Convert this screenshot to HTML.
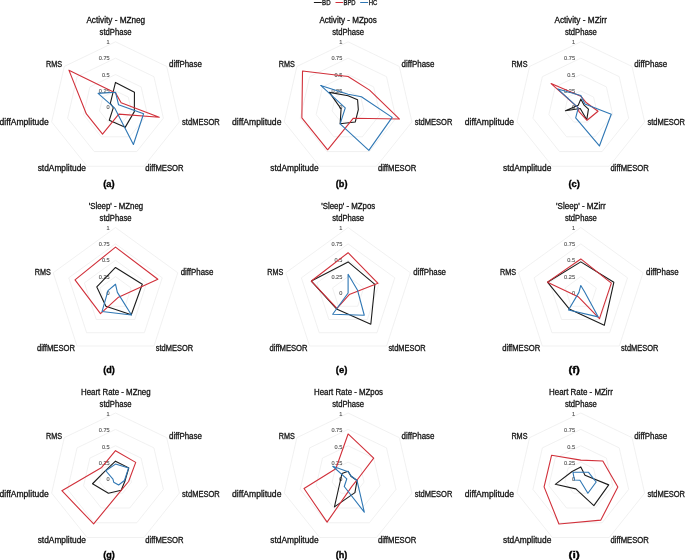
<!DOCTYPE html><html><head><meta charset="utf-8"><style>html,body{margin:0;padding:0;background:#fff;}svg{display:block}text{font-family:"Liberation Sans",sans-serif;} svg{will-change:transform;filter:blur(0.45px)} .t{stroke:#141414;stroke-width:0.3;}</style></head><body>
<svg width="685" height="560" viewBox="0 0 685 560">
<rect width="685" height="560" fill="#fff"/>
<line x1="313.9" y1="2.5" x2="321.8" y2="2.5" stroke="#1a1a1a" stroke-width="1"/>
<text class="t" x="322.1" y="5.1" font-size="7.2" fill="#141414" textLength="8.5" lengthAdjust="spacingAndGlyphs">BD</text>
<line x1="335.5" y1="2.5" x2="343.1" y2="2.5" stroke="#d1303a" stroke-width="1"/>
<text class="t" x="343.5" y="5.1" font-size="7.2" fill="#141414" textLength="12.1" lengthAdjust="spacingAndGlyphs">BPD</text>
<line x1="360.2" y1="2.5" x2="368.1" y2="2.5" stroke="#2f77b4" stroke-width="1"/>
<text class="t" x="368.7" y="5.1" font-size="7.2" fill="#141414" textLength="8.6" lengthAdjust="spacingAndGlyphs">HC</text>
<polygon points="115.50,90.92 128.30,97.09 131.46,110.94 122.60,122.05 108.40,122.05 99.54,110.94 102.70,97.09" fill="none" stroke="#ececec" stroke-width="0.75"/>
<polygon points="115.50,74.55 141.10,86.88 147.43,114.59 129.71,136.81 101.29,136.81 83.57,114.59 89.90,86.88" fill="none" stroke="#ececec" stroke-width="0.75"/>
<polygon points="115.50,58.17 153.91,76.67 163.39,118.23 136.81,151.56 94.19,151.56 67.61,118.23 77.09,76.67" fill="none" stroke="#ececec" stroke-width="0.75"/>
<polygon points="115.50,41.80 166.71,66.46 179.36,121.88 143.92,166.31 87.08,166.31 51.64,121.88 64.29,66.46" fill="none" stroke="#ececec" stroke-width="0.75"/>
<text x="109.70" y="109.30" font-size="5.6" fill="#555" stroke="#555" stroke-width="0.12" text-anchor="end">0</text>
<text x="109.70" y="92.92" font-size="5.6" fill="#555" stroke="#555" stroke-width="0.12" text-anchor="end">0.25</text>
<text x="109.70" y="76.55" font-size="5.6" fill="#555" stroke="#555" stroke-width="0.12" text-anchor="end">0.5</text>
<text x="109.70" y="60.17" font-size="5.6" fill="#555" stroke="#555" stroke-width="0.12" text-anchor="end">0.75</text>
<text x="109.70" y="43.80" font-size="5.6" fill="#555" stroke="#555" stroke-width="0.12" text-anchor="end">1</text>
<polygon points="115.50,82.41 134.45,92.19 134.34,111.60 125.16,127.36 109.25,120.28 113.26,107.81 110.38,103.22" fill="none" stroke="#1c1c1c" stroke-width="1.1" stroke-linejoin="round"/>
<polygon points="115.50,92.89 121.13,102.81 159.24,117.28 118.77,114.09 102.54,134.21 86.38,113.95 68.90,70.14" fill="none" stroke="#d1303a" stroke-width="1.1" stroke-linejoin="round"/>
<polygon points="115.50,92.23 118.57,104.85 143.60,113.71 133.40,144.48 114.93,108.48 114.22,107.59 98.09,93.41" fill="none" stroke="#2f77b4" stroke-width="1.1" stroke-linejoin="round"/>
<text x="99.60" y="35.40" class="t" font-size="8.2" fill="#141414" textLength="31.9" lengthAdjust="spacingAndGlyphs">stdPhase</text>
<text x="169.00" y="67.40" class="t" font-size="8.2" fill="#141414" textLength="32.9" lengthAdjust="spacingAndGlyphs">diffPhase</text>
<text x="182.10" y="124.70" class="t" font-size="8.2" fill="#141414" textLength="37.65" lengthAdjust="spacingAndGlyphs">stdMESOR</text>
<text x="145.30" y="170.70" class="t" font-size="8.2" fill="#141414" textLength="38.3" lengthAdjust="spacingAndGlyphs">diffMESOR</text>
<text x="37.70" y="170.90" class="t" font-size="8.2" fill="#141414" textLength="48.3" lengthAdjust="spacingAndGlyphs">stdAmplitude</text>
<text x="-0.50" y="124.60" class="t" font-size="8.2" fill="#141414" textLength="49.3" lengthAdjust="spacingAndGlyphs">diffAmplitude</text>
<text x="46.10" y="66.80" class="t" font-size="8.2" fill="#141414" textLength="16.1" lengthAdjust="spacingAndGlyphs">RMS</text>
<text x="86.40" y="22.90" class="t" font-size="8.2" fill="#141414" textLength="58.8" lengthAdjust="spacingAndGlyphs">Activity - MZneg</text>
<text x="103.20" y="186.80" font-size="9.7" font-weight="bold" fill="#000" stroke="#000" stroke-width="0.35" textLength="11.4" lengthAdjust="spacingAndGlyphs">(a)</text>
<polygon points="348.10,90.92 360.90,97.09 364.06,110.94 355.20,122.05 341.00,122.05 332.14,110.94 335.30,97.09" fill="none" stroke="#ececec" stroke-width="0.75"/>
<polygon points="348.10,74.55 373.70,86.88 380.03,114.59 362.31,136.81 333.89,136.81 316.17,114.59 322.50,86.88" fill="none" stroke="#ececec" stroke-width="0.75"/>
<polygon points="348.10,58.17 386.51,76.67 395.99,118.23 369.41,151.56 326.79,151.56 300.21,118.23 309.69,76.67" fill="none" stroke="#ececec" stroke-width="0.75"/>
<polygon points="348.10,41.80 399.31,66.46 411.96,121.88 376.52,166.31 319.68,166.31 284.24,121.88 296.89,66.46" fill="none" stroke="#ececec" stroke-width="0.75"/>
<text x="342.30" y="109.30" font-size="5.6" fill="#555" stroke="#555" stroke-width="0.12" text-anchor="end">0</text>
<text x="342.30" y="92.92" font-size="5.6" fill="#555" stroke="#555" stroke-width="0.12" text-anchor="end">0.25</text>
<text x="342.30" y="76.55" font-size="5.6" fill="#555" stroke="#555" stroke-width="0.12" text-anchor="end">0.5</text>
<text x="342.30" y="60.17" font-size="5.6" fill="#555" stroke="#555" stroke-width="0.12" text-anchor="end">0.75</text>
<text x="342.30" y="43.80" font-size="5.6" fill="#555" stroke="#555" stroke-width="0.12" text-anchor="end">1</text>
<polygon points="348.10,95.77 357.57,99.74 358.32,109.63 355.20,122.05 340.14,123.82 341.08,108.90 329.36,92.35" fill="none" stroke="#1c1c1c" stroke-width="1.1" stroke-linejoin="round"/>
<polygon points="348.10,76.52 369.61,90.15 399.51,119.03 353.36,118.22 327.64,149.79 301.87,117.85 302.52,70.95" fill="none" stroke="#d1303a" stroke-width="1.1" stroke-linejoin="round"/>
<polygon points="348.10,94.20 361.41,96.68 392.16,117.36 368.85,150.38 340.14,123.82 345.23,107.96 320.70,85.45" fill="none" stroke="#2f77b4" stroke-width="1.1" stroke-linejoin="round"/>
<text x="332.20" y="35.40" class="t" font-size="8.2" fill="#141414" textLength="31.9" lengthAdjust="spacingAndGlyphs">stdPhase</text>
<text x="401.60" y="67.40" class="t" font-size="8.2" fill="#141414" textLength="32.9" lengthAdjust="spacingAndGlyphs">diffPhase</text>
<text x="414.70" y="124.70" class="t" font-size="8.2" fill="#141414" textLength="37.65" lengthAdjust="spacingAndGlyphs">stdMESOR</text>
<text x="377.90" y="170.70" class="t" font-size="8.2" fill="#141414" textLength="38.3" lengthAdjust="spacingAndGlyphs">diffMESOR</text>
<text x="270.30" y="170.90" class="t" font-size="8.2" fill="#141414" textLength="48.3" lengthAdjust="spacingAndGlyphs">stdAmplitude</text>
<text x="232.10" y="124.60" class="t" font-size="8.2" fill="#141414" textLength="49.3" lengthAdjust="spacingAndGlyphs">diffAmplitude</text>
<text x="278.70" y="66.80" class="t" font-size="8.2" fill="#141414" textLength="16.1" lengthAdjust="spacingAndGlyphs">RMS</text>
<text x="319.40" y="22.90" class="t" font-size="8.2" fill="#141414" textLength="57.5" lengthAdjust="spacingAndGlyphs">Activity - MZpos</text>
<text x="335.80" y="186.80" font-size="9.7" font-weight="bold" fill="#000" stroke="#000" stroke-width="0.35" textLength="11.7" lengthAdjust="spacingAndGlyphs">(b)</text>
<polygon points="580.80,90.92 593.60,97.09 596.76,110.94 587.90,122.05 573.70,122.05 564.84,110.94 568.00,97.09" fill="none" stroke="#ececec" stroke-width="0.75"/>
<polygon points="580.80,74.55 606.40,86.88 612.73,114.59 595.01,136.81 566.59,136.81 548.87,114.59 555.20,86.88" fill="none" stroke="#ececec" stroke-width="0.75"/>
<polygon points="580.80,58.17 619.21,76.67 628.69,118.23 602.11,151.56 559.49,151.56 532.91,118.23 542.39,76.67" fill="none" stroke="#ececec" stroke-width="0.75"/>
<polygon points="580.80,41.80 632.01,66.46 644.66,121.88 609.22,166.31 552.38,166.31 516.94,121.88 529.59,66.46" fill="none" stroke="#ececec" stroke-width="0.75"/>
<text x="575.00" y="109.30" font-size="5.6" fill="#555" stroke="#555" stroke-width="0.12" text-anchor="end">0</text>
<text x="575.00" y="92.92" font-size="5.6" fill="#555" stroke="#555" stroke-width="0.12" text-anchor="end">0.25</text>
<text x="575.00" y="76.55" font-size="5.6" fill="#555" stroke="#555" stroke-width="0.12" text-anchor="end">0.5</text>
<text x="575.00" y="60.17" font-size="5.6" fill="#555" stroke="#555" stroke-width="0.12" text-anchor="end">0.75</text>
<text x="575.00" y="43.80" font-size="5.6" fill="#555" stroke="#555" stroke-width="0.12" text-anchor="end">1</text>
<polygon points="580.80,99.11 583.87,104.85 588.46,109.05 586.77,119.69 580.23,108.48 565.47,110.80 578.24,105.26" fill="none" stroke="#1c1c1c" stroke-width="1.1" stroke-linejoin="round"/>
<polygon points="580.80,96.16 586.43,102.81 598.04,111.24 587.05,120.28 578.81,111.43 578.25,107.88 551.10,83.61" fill="none" stroke="#d1303a" stroke-width="1.1" stroke-linejoin="round"/>
<polygon points="580.80,95.51 584.90,104.03 611.26,114.25 599.41,145.95 575.68,117.92 578.25,107.88 557.76,88.92" fill="none" stroke="#2f77b4" stroke-width="1.1" stroke-linejoin="round"/>
<text x="564.90" y="35.40" class="t" font-size="8.2" fill="#141414" textLength="31.9" lengthAdjust="spacingAndGlyphs">stdPhase</text>
<text x="634.30" y="67.40" class="t" font-size="8.2" fill="#141414" textLength="32.9" lengthAdjust="spacingAndGlyphs">diffPhase</text>
<text x="647.40" y="124.70" class="t" font-size="8.2" fill="#141414" textLength="37.65" lengthAdjust="spacingAndGlyphs">stdMESOR</text>
<text x="610.60" y="170.70" class="t" font-size="8.2" fill="#141414" textLength="38.3" lengthAdjust="spacingAndGlyphs">diffMESOR</text>
<text x="503.00" y="170.90" class="t" font-size="8.2" fill="#141414" textLength="48.3" lengthAdjust="spacingAndGlyphs">stdAmplitude</text>
<text x="464.80" y="124.60" class="t" font-size="8.2" fill="#141414" textLength="49.3" lengthAdjust="spacingAndGlyphs">diffAmplitude</text>
<text x="511.40" y="66.80" class="t" font-size="8.2" fill="#141414" textLength="16.1" lengthAdjust="spacingAndGlyphs">RMS</text>
<text x="554.40" y="22.90" class="t" font-size="8.2" fill="#141414" textLength="52.6" lengthAdjust="spacingAndGlyphs">Activity - MZirr</text>
<text x="568.50" y="186.80" font-size="9.7" font-weight="bold" fill="#000" stroke="#000" stroke-width="0.35" textLength="11.4" lengthAdjust="spacingAndGlyphs">(c)</text>
<polygon points="115.50,276.62 131.07,287.94 125.12,306.25 105.88,306.25 99.93,287.94" fill="none" stroke="#ececec" stroke-width="0.75"/>
<polygon points="115.50,260.25 146.65,282.88 134.75,319.50 96.25,319.50 84.35,282.88" fill="none" stroke="#ececec" stroke-width="0.75"/>
<polygon points="115.50,243.88 162.22,277.82 144.37,332.74 86.63,332.74 68.78,277.82" fill="none" stroke="#ececec" stroke-width="0.75"/>
<polygon points="115.50,227.50 177.79,272.76 154.00,345.99 77.00,345.99 53.21,272.76" fill="none" stroke="#ececec" stroke-width="0.75"/>
<text x="109.70" y="295.00" font-size="5.6" fill="#555" stroke="#555" stroke-width="0.12" text-anchor="end">0</text>
<text x="109.70" y="278.62" font-size="5.6" fill="#555" stroke="#555" stroke-width="0.12" text-anchor="end">0.25</text>
<text x="109.70" y="262.25" font-size="5.6" fill="#555" stroke="#555" stroke-width="0.12" text-anchor="end">0.5</text>
<text x="109.70" y="245.88" font-size="5.6" fill="#555" stroke="#555" stroke-width="0.12" text-anchor="end">0.75</text>
<text x="109.70" y="229.50" font-size="5.6" fill="#555" stroke="#555" stroke-width="0.12" text-anchor="end">1</text>
<polygon points="115.50,267.45 142.29,284.30 131.28,314.73 105.88,306.25 96.81,286.93" fill="none" stroke="#1c1c1c" stroke-width="1.1" stroke-linejoin="round"/>
<polygon points="115.50,247.15 157.86,279.24 118.50,297.13 100.49,313.67 75.01,279.84" fill="none" stroke="#d1303a" stroke-width="1.1" stroke-linejoin="round"/>
<polygon points="115.50,284.22 117.37,292.39 131.48,314.99 102.03,311.55 108.02,290.57" fill="none" stroke="#2f77b4" stroke-width="1.1" stroke-linejoin="round"/>
<text x="99.60" y="221.40" class="t" font-size="8.2" fill="#141414" textLength="31.9" lengthAdjust="spacingAndGlyphs">stdPhase</text>
<text x="180.70" y="274.50" class="t" font-size="8.2" fill="#141414" textLength="32.7" lengthAdjust="spacingAndGlyphs">diffPhase</text>
<text x="155.80" y="350.70" class="t" font-size="8.2" fill="#141414" textLength="37.3" lengthAdjust="spacingAndGlyphs">stdMESOR</text>
<text x="36.90" y="350.80" class="t" font-size="8.2" fill="#141414" textLength="38.1" lengthAdjust="spacingAndGlyphs">diffMESOR</text>
<text x="34.70" y="274.60" class="t" font-size="8.2" fill="#141414" textLength="16.05" lengthAdjust="spacingAndGlyphs">RMS</text>
<text x="88.80" y="209.00" class="t" font-size="8.2" fill="#141414" textLength="54.3" lengthAdjust="spacingAndGlyphs">'Sleep' - MZneg</text>
<text x="103.20" y="372.50" font-size="9.7" font-weight="bold" fill="#000" stroke="#000" stroke-width="0.35" textLength="11.6" lengthAdjust="spacingAndGlyphs">(d)</text>
<polygon points="348.10,276.62 363.67,287.94 357.72,306.25 338.48,306.25 332.53,287.94" fill="none" stroke="#ececec" stroke-width="0.75"/>
<polygon points="348.10,260.25 379.25,282.88 367.35,319.50 328.85,319.50 316.95,282.88" fill="none" stroke="#ececec" stroke-width="0.75"/>
<polygon points="348.10,243.88 394.82,277.82 376.97,332.74 319.23,332.74 301.38,277.82" fill="none" stroke="#ececec" stroke-width="0.75"/>
<polygon points="348.10,227.50 410.39,272.76 386.60,345.99 309.60,345.99 285.81,272.76" fill="none" stroke="#ececec" stroke-width="0.75"/>
<text x="342.30" y="295.00" font-size="5.6" fill="#555" stroke="#555" stroke-width="0.12" text-anchor="end">0</text>
<text x="342.30" y="278.62" font-size="5.6" fill="#555" stroke="#555" stroke-width="0.12" text-anchor="end">0.25</text>
<text x="342.30" y="262.25" font-size="5.6" fill="#555" stroke="#555" stroke-width="0.12" text-anchor="end">0.5</text>
<text x="342.30" y="245.88" font-size="5.6" fill="#555" stroke="#555" stroke-width="0.12" text-anchor="end">0.75</text>
<text x="342.30" y="229.50" font-size="5.6" fill="#555" stroke="#555" stroke-width="0.12" text-anchor="end">1</text>
<polygon points="348.10,261.89 374.89,284.30 370.81,324.26 336.55,308.90 311.35,281.06" fill="none" stroke="#1c1c1c" stroke-width="1.1" stroke-linejoin="round"/>
<polygon points="348.10,252.72 378.00,283.28 349.25,294.59 336.94,308.37 311.35,281.06" fill="none" stroke="#d1303a" stroke-width="1.1" stroke-linejoin="round"/>
<polygon points="348.10,274.33 357.44,289.96 364.27,315.26 332.70,314.20 348.10,293.00" fill="none" stroke="#2f77b4" stroke-width="1.1" stroke-linejoin="round"/>
<text x="332.20" y="221.40" class="t" font-size="8.2" fill="#141414" textLength="31.9" lengthAdjust="spacingAndGlyphs">stdPhase</text>
<text x="413.30" y="274.50" class="t" font-size="8.2" fill="#141414" textLength="32.7" lengthAdjust="spacingAndGlyphs">diffPhase</text>
<text x="388.40" y="350.70" class="t" font-size="8.2" fill="#141414" textLength="37.3" lengthAdjust="spacingAndGlyphs">stdMESOR</text>
<text x="269.50" y="350.80" class="t" font-size="8.2" fill="#141414" textLength="38.1" lengthAdjust="spacingAndGlyphs">diffMESOR</text>
<text x="267.30" y="274.60" class="t" font-size="8.2" fill="#141414" textLength="16.05" lengthAdjust="spacingAndGlyphs">RMS</text>
<text x="321.20" y="209.00" class="t" font-size="8.2" fill="#141414" textLength="54.0" lengthAdjust="spacingAndGlyphs">'Sleep' - MZpos</text>
<text x="335.80" y="372.50" font-size="9.7" font-weight="bold" fill="#000" stroke="#000" stroke-width="0.35" textLength="11.6" lengthAdjust="spacingAndGlyphs">(e)</text>
<polygon points="580.80,276.62 596.37,287.94 590.42,306.25 571.18,306.25 565.23,287.94" fill="none" stroke="#ececec" stroke-width="0.75"/>
<polygon points="580.80,260.25 611.95,282.88 600.05,319.50 561.55,319.50 549.65,282.88" fill="none" stroke="#ececec" stroke-width="0.75"/>
<polygon points="580.80,243.88 627.52,277.82 609.67,332.74 551.93,332.74 534.08,277.82" fill="none" stroke="#ececec" stroke-width="0.75"/>
<polygon points="580.80,227.50 643.09,272.76 619.30,345.99 542.30,345.99 518.51,272.76" fill="none" stroke="#ececec" stroke-width="0.75"/>
<text x="575.00" y="295.00" font-size="5.6" fill="#555" stroke="#555" stroke-width="0.12" text-anchor="end">0</text>
<text x="575.00" y="278.62" font-size="5.6" fill="#555" stroke="#555" stroke-width="0.12" text-anchor="end">0.25</text>
<text x="575.00" y="262.25" font-size="5.6" fill="#555" stroke="#555" stroke-width="0.12" text-anchor="end">0.5</text>
<text x="575.00" y="245.88" font-size="5.6" fill="#555" stroke="#555" stroke-width="0.12" text-anchor="end">0.75</text>
<text x="575.00" y="229.50" font-size="5.6" fill="#555" stroke="#555" stroke-width="0.12" text-anchor="end">1</text>
<polygon points="580.80,261.89 613.82,282.27 604.28,325.32 569.25,308.90 547.47,282.17" fill="none" stroke="#1c1c1c" stroke-width="1.1" stroke-linejoin="round"/>
<polygon points="580.80,258.94 611.32,283.08 599.47,318.70 578.11,296.71 547.47,282.17" fill="none" stroke="#d1303a" stroke-width="1.1" stroke-linejoin="round"/>
<polygon points="580.80,285.47 584.54,291.79 598.12,316.85 568.48,309.96 578.93,292.39" fill="none" stroke="#2f77b4" stroke-width="1.1" stroke-linejoin="round"/>
<text x="564.90" y="221.40" class="t" font-size="8.2" fill="#141414" textLength="31.9" lengthAdjust="spacingAndGlyphs">stdPhase</text>
<text x="646.00" y="274.50" class="t" font-size="8.2" fill="#141414" textLength="32.7" lengthAdjust="spacingAndGlyphs">diffPhase</text>
<text x="621.10" y="350.70" class="t" font-size="8.2" fill="#141414" textLength="37.3" lengthAdjust="spacingAndGlyphs">stdMESOR</text>
<text x="502.20" y="350.80" class="t" font-size="8.2" fill="#141414" textLength="38.1" lengthAdjust="spacingAndGlyphs">diffMESOR</text>
<text x="500.00" y="274.60" class="t" font-size="8.2" fill="#141414" textLength="16.05" lengthAdjust="spacingAndGlyphs">RMS</text>
<text x="556.00" y="209.00" class="t" font-size="8.2" fill="#141414" textLength="49.6" lengthAdjust="spacingAndGlyphs">'Sleep' - MZirr</text>
<text x="568.50" y="372.50" font-size="9.7" font-weight="bold" fill="#000" stroke="#000" stroke-width="0.35" textLength="11.4" lengthAdjust="spacingAndGlyphs">(f)</text>
<polygon points="115.50,462.12 128.30,468.29 131.46,482.14 122.60,493.25 108.40,493.25 99.54,482.14 102.70,468.29" fill="none" stroke="#ececec" stroke-width="0.75"/>
<polygon points="115.50,445.75 141.10,458.08 147.43,485.79 129.71,508.01 101.29,508.01 83.57,485.79 89.90,458.08" fill="none" stroke="#ececec" stroke-width="0.75"/>
<polygon points="115.50,429.38 153.91,447.87 163.39,489.43 136.81,522.76 94.19,522.76 67.61,489.43 77.09,447.87" fill="none" stroke="#ececec" stroke-width="0.75"/>
<polygon points="115.50,413.00 166.71,437.66 179.36,493.08 143.92,537.51 87.08,537.51 51.64,493.08 64.29,437.66" fill="none" stroke="#ececec" stroke-width="0.75"/>
<text x="109.70" y="481.40" font-size="5.6" fill="#555" stroke="#555" stroke-width="0.12" text-anchor="end">0</text>
<text x="109.70" y="465.02" font-size="5.6" fill="#555" stroke="#555" stroke-width="0.12" text-anchor="end">0.25</text>
<text x="109.70" y="448.65" font-size="5.6" fill="#555" stroke="#555" stroke-width="0.12" text-anchor="end">0.5</text>
<text x="109.70" y="432.27" font-size="5.6" fill="#555" stroke="#555" stroke-width="0.12" text-anchor="end">0.75</text>
<text x="109.70" y="415.90" font-size="5.6" fill="#555" stroke="#555" stroke-width="0.12" text-anchor="end">1</text>
<polygon points="115.50,461.14 128.81,467.88 125.08,480.69 121.18,490.30 108.40,493.25 92.51,483.75 105.51,470.54" fill="none" stroke="#1c1c1c" stroke-width="1.1" stroke-linejoin="round"/>
<polygon points="115.50,450.66 135.73,462.37 128.59,481.49 121.18,490.30 93.62,523.94 61.86,490.74 101.67,467.47" fill="none" stroke="#d1303a" stroke-width="1.1" stroke-linejoin="round"/>
<polygon points="115.50,464.09 128.56,468.09 124.44,480.54 118.63,484.99 113.71,482.22 112.95,479.08 105.77,470.74" fill="none" stroke="#2f77b4" stroke-width="1.1" stroke-linejoin="round"/>
<text x="99.60" y="407.40" class="t" font-size="8.2" fill="#141414" textLength="31.9" lengthAdjust="spacingAndGlyphs">stdPhase</text>
<text x="169.00" y="439.40" class="t" font-size="8.2" fill="#141414" textLength="32.9" lengthAdjust="spacingAndGlyphs">diffPhase</text>
<text x="182.10" y="496.70" class="t" font-size="8.2" fill="#141414" textLength="37.65" lengthAdjust="spacingAndGlyphs">stdMESOR</text>
<text x="145.30" y="542.70" class="t" font-size="8.2" fill="#141414" textLength="38.3" lengthAdjust="spacingAndGlyphs">diffMESOR</text>
<text x="37.70" y="542.90" class="t" font-size="8.2" fill="#141414" textLength="48.3" lengthAdjust="spacingAndGlyphs">stdAmplitude</text>
<text x="-0.50" y="496.60" class="t" font-size="8.2" fill="#141414" textLength="49.3" lengthAdjust="spacingAndGlyphs">diffAmplitude</text>
<text x="46.10" y="438.80" class="t" font-size="8.2" fill="#141414" textLength="16.1" lengthAdjust="spacingAndGlyphs">RMS</text>
<text x="81.00" y="394.80" class="t" font-size="8.2" fill="#141414" textLength="69.6" lengthAdjust="spacingAndGlyphs">Heart Rate - MZneg</text>
<text x="103.20" y="558.20" font-size="9.7" font-weight="bold" fill="#000" stroke="#000" stroke-width="0.35" textLength="11.6" lengthAdjust="spacingAndGlyphs">(g)</text>
<polygon points="348.10,462.12 360.90,468.29 364.06,482.14 355.20,493.25 341.00,493.25 332.14,482.14 335.30,468.29" fill="none" stroke="#ececec" stroke-width="0.75"/>
<polygon points="348.10,445.75 373.70,458.08 380.03,485.79 362.31,508.01 333.89,508.01 316.17,485.79 322.50,458.08" fill="none" stroke="#ececec" stroke-width="0.75"/>
<polygon points="348.10,429.38 386.51,447.87 395.99,489.43 369.41,522.76 326.79,522.76 300.21,489.43 309.69,447.87" fill="none" stroke="#ececec" stroke-width="0.75"/>
<polygon points="348.10,413.00 399.31,437.66 411.96,493.08 376.52,537.51 319.68,537.51 284.24,493.08 296.89,437.66" fill="none" stroke="#ececec" stroke-width="0.75"/>
<text x="342.30" y="481.40" font-size="5.6" fill="#555" stroke="#555" stroke-width="0.12" text-anchor="end">0</text>
<text x="342.30" y="465.02" font-size="5.6" fill="#555" stroke="#555" stroke-width="0.12" text-anchor="end">0.25</text>
<text x="342.30" y="448.65" font-size="5.6" fill="#555" stroke="#555" stroke-width="0.12" text-anchor="end">0.5</text>
<text x="342.30" y="432.27" font-size="5.6" fill="#555" stroke="#555" stroke-width="0.12" text-anchor="end">0.75</text>
<text x="342.30" y="415.90" font-size="5.6" fill="#555" stroke="#555" stroke-width="0.12" text-anchor="end">1</text>
<polygon points="348.10,471.30 350.92,476.25 357.04,480.54 354.92,492.66 334.46,506.83 340.44,480.25 341.95,473.60" fill="none" stroke="#1c1c1c" stroke-width="1.1" stroke-linejoin="round"/>
<polygon points="348.10,433.96 373.70,458.08 356.72,480.47 351.88,486.35 327.07,522.17 304.04,488.56 335.81,468.70" fill="none" stroke="#d1303a" stroke-width="1.1" stroke-linejoin="round"/>
<polygon points="348.10,471.69 351.17,476.05 357.04,480.54 364.30,512.14 344.26,486.47 346.82,478.79 332.74,466.25" fill="none" stroke="#2f77b4" stroke-width="1.1" stroke-linejoin="round"/>
<text x="332.20" y="407.40" class="t" font-size="8.2" fill="#141414" textLength="31.9" lengthAdjust="spacingAndGlyphs">stdPhase</text>
<text x="401.60" y="439.40" class="t" font-size="8.2" fill="#141414" textLength="32.9" lengthAdjust="spacingAndGlyphs">diffPhase</text>
<text x="414.70" y="496.70" class="t" font-size="8.2" fill="#141414" textLength="37.65" lengthAdjust="spacingAndGlyphs">stdMESOR</text>
<text x="377.90" y="542.70" class="t" font-size="8.2" fill="#141414" textLength="38.3" lengthAdjust="spacingAndGlyphs">diffMESOR</text>
<text x="270.30" y="542.90" class="t" font-size="8.2" fill="#141414" textLength="48.3" lengthAdjust="spacingAndGlyphs">stdAmplitude</text>
<text x="232.10" y="496.60" class="t" font-size="8.2" fill="#141414" textLength="49.3" lengthAdjust="spacingAndGlyphs">diffAmplitude</text>
<text x="278.70" y="438.80" class="t" font-size="8.2" fill="#141414" textLength="16.1" lengthAdjust="spacingAndGlyphs">RMS</text>
<text x="314.00" y="394.80" class="t" font-size="8.2" fill="#141414" textLength="69.0" lengthAdjust="spacingAndGlyphs">Heart Rate - MZpos</text>
<text x="335.80" y="558.20" font-size="9.7" font-weight="bold" fill="#000" stroke="#000" stroke-width="0.35" textLength="11.6" lengthAdjust="spacingAndGlyphs">(h)</text>
<polygon points="580.80,462.12 593.60,468.29 596.76,482.14 587.90,493.25 573.70,493.25 564.84,482.14 568.00,468.29" fill="none" stroke="#ececec" stroke-width="0.75"/>
<polygon points="580.80,445.75 606.40,458.08 612.73,485.79 595.01,508.01 566.59,508.01 548.87,485.79 555.20,458.08" fill="none" stroke="#ececec" stroke-width="0.75"/>
<polygon points="580.80,429.38 619.21,447.87 628.69,489.43 602.11,522.76 559.49,522.76 532.91,489.43 542.39,447.87" fill="none" stroke="#ececec" stroke-width="0.75"/>
<polygon points="580.80,413.00 632.01,437.66 644.66,493.08 609.22,537.51 552.38,537.51 516.94,493.08 529.59,437.66" fill="none" stroke="#ececec" stroke-width="0.75"/>
<text x="575.00" y="481.40" font-size="5.6" fill="#555" stroke="#555" stroke-width="0.12" text-anchor="end">0</text>
<text x="575.00" y="465.02" font-size="5.6" fill="#555" stroke="#555" stroke-width="0.12" text-anchor="end">0.25</text>
<text x="575.00" y="448.65" font-size="5.6" fill="#555" stroke="#555" stroke-width="0.12" text-anchor="end">0.5</text>
<text x="575.00" y="432.27" font-size="5.6" fill="#555" stroke="#555" stroke-width="0.12" text-anchor="end">0.75</text>
<text x="575.00" y="415.90" font-size="5.6" fill="#555" stroke="#555" stroke-width="0.12" text-anchor="end">1</text>
<polygon points="580.80,466.91 585.00,475.15 608.71,484.87 593.87,505.65 575.80,488.89 555.26,484.33 572.09,471.56" fill="none" stroke="#1c1c1c" stroke-width="1.1" stroke-linejoin="round"/>
<polygon points="580.80,460.16 602.82,460.94 617.84,486.95 600.84,520.10 558.92,523.94 544.08,486.88 551.61,455.22" fill="none" stroke="#d1303a" stroke-width="1.1" stroke-linejoin="round"/>
<polygon points="580.80,472.28 588.58,472.29 596.13,482.00 587.90,493.25 579.95,480.27 574.41,479.96 572.96,472.25" fill="none" stroke="#2f77b4" stroke-width="1.1" stroke-linejoin="round"/>
<text x="564.90" y="407.40" class="t" font-size="8.2" fill="#141414" textLength="31.9" lengthAdjust="spacingAndGlyphs">stdPhase</text>
<text x="634.30" y="439.40" class="t" font-size="8.2" fill="#141414" textLength="32.9" lengthAdjust="spacingAndGlyphs">diffPhase</text>
<text x="647.40" y="496.70" class="t" font-size="8.2" fill="#141414" textLength="37.65" lengthAdjust="spacingAndGlyphs">stdMESOR</text>
<text x="610.60" y="542.70" class="t" font-size="8.2" fill="#141414" textLength="38.3" lengthAdjust="spacingAndGlyphs">diffMESOR</text>
<text x="503.00" y="542.90" class="t" font-size="8.2" fill="#141414" textLength="48.3" lengthAdjust="spacingAndGlyphs">stdAmplitude</text>
<text x="464.80" y="496.60" class="t" font-size="8.2" fill="#141414" textLength="49.3" lengthAdjust="spacingAndGlyphs">diffAmplitude</text>
<text x="511.40" y="438.80" class="t" font-size="8.2" fill="#141414" textLength="16.1" lengthAdjust="spacingAndGlyphs">RMS</text>
<text x="549.00" y="394.80" class="t" font-size="8.2" fill="#141414" textLength="63.9" lengthAdjust="spacingAndGlyphs">Heart Rate - MZirr</text>
<text x="568.50" y="558.20" font-size="9.7" font-weight="bold" fill="#000" stroke="#000" stroke-width="0.35" textLength="11.4" lengthAdjust="spacingAndGlyphs">(i)</text>
</svg></body></html>
